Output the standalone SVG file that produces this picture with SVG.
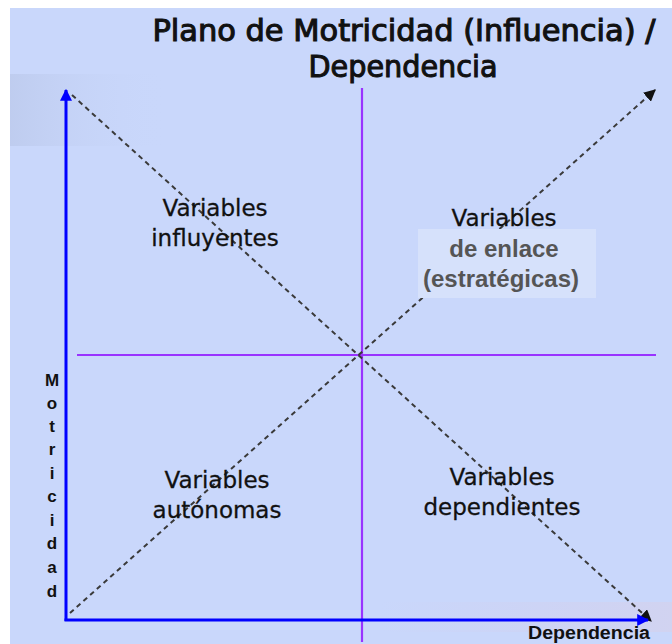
<svg xmlns="http://www.w3.org/2000/svg" width="672" height="644" viewBox="0 0 672 644">
  <defs>
    <linearGradient id="band" x1="0" y1="0" x2="1" y2="0">
      <stop offset="0" stop-color="#9aa6c4" stop-opacity="0.22"/>
      <stop offset="1" stop-color="#c9d7fb" stop-opacity="0"/>
    </linearGradient>
    <linearGradient id="band2" x1="0" y1="0" x2="1" y2="0">
      <stop offset="0" stop-color="#d6c8e6" stop-opacity="0"/>
      <stop offset="1" stop-color="#d9cfe6" stop-opacity="0.5"/>
    </linearGradient>
    <marker id="blueArrow" viewBox="0 0 10 10" refX="9" refY="5" markerWidth="4" markerHeight="4" orient="auto" markerUnits="strokeWidth">
      <path d="M0,0 L10,5 L0,10 z" fill="#0000ff"/>
    </marker>
    <marker id="dashArrow" viewBox="0 0 10 10" refX="9" refY="5" markerWidth="6" markerHeight="6" orient="auto" markerUnits="strokeWidth">
      <path d="M0,0 L10,5 L0,10 z" fill="#111"/>
    </marker>
  </defs>
  <style>
    .axis { stroke: #0000ff; stroke-width: 3; fill: none; }
    .mid { stroke: #9933ff; stroke-width: 2.2; fill: none; }
    .diag { stroke: #3a3a3a; stroke-width: 2; stroke-dasharray: 5 4; fill: none; }
    .title { font-family: "DejaVu Sans Condensed", "DejaVu Sans", sans-serif; font-size: 30px; font-weight: normal; fill: #111; stroke: #111; stroke-width: 1; text-anchor: middle; }
    .quad { font-family: "DejaVu Sans", sans-serif; font-size: 23px; fill: #111; stroke: #111; stroke-width: 0.3; text-anchor: middle; }
    .enl { font-family: "Liberation Sans", Arial, sans-serif; font-size: 24px; font-weight: bold; fill: #555; text-anchor: middle; }
    .axl { font-family: "Liberation Sans", Arial, sans-serif; font-size: 17px; font-weight: bold; fill: #111; text-anchor: middle; }
  </style>
  <rect x="0" y="0" width="672" height="644" fill="#ffffff"/>
  <rect x="10" y="8" width="662" height="636" fill="#c9d7fb"/>
  <rect x="10" y="74" width="160" height="72" fill="url(#band)"/>
  <rect x="380" y="602" width="292" height="30" fill="url(#band2)"/>

  <g id="title">
    <text class="title" x="404" y="41" textLength="503" lengthAdjust="spacingAndGlyphs">Plano de Motricidad (Influencia) /</text>
    <text class="title" x="403" y="77" textLength="189" lengthAdjust="spacingAndGlyphs">Dependencia</text>
  </g>

  <g id="connectors">
    <line class="mid" x1="362" y1="88" x2="362" y2="642"/>
    <line class="mid" x1="77" y1="355" x2="656" y2="355"/>
    <line class="diag" x1="72" y1="95" x2="651" y2="621" marker-end="url(#dashArrow)"/>
    <line class="diag" x1="70" y1="613" x2="655" y2="90" marker-end="url(#dashArrow)"/>
    <line class="axis" x1="66" y1="621" x2="66" y2="90" marker-end="url(#blueArrow)"/>
    <line class="axis" x1="64.5" y1="620" x2="648" y2="620" marker-end="url(#blueArrow)"/>
  </g>

  <g id="q-influyentes">
    <text class="quad" x="215" y="216">Variables</text>
    <text class="quad" x="215" y="246">influyentes</text>
  </g>
  <g id="q-enlace">
    <rect x="418" y="229" width="178" height="69" fill="#d6e1fb"/>
    <text class="quad" x="504" y="226">Variables</text>
    <text class="enl" x="504" y="257">de enlace</text>
    <text class="enl" x="501" y="287">(estratégicas)</text>
  </g>
  <g id="q-autonomas">
    <text class="quad" x="217" y="488">Variables</text>
    <text class="quad" x="217" y="518">autónomas</text>
  </g>
  <g id="q-dependientes">
    <text class="quad" x="502" y="485">Variables</text>
    <text class="quad" x="502" y="515">dependientes</text>
  </g>

  <g id="label-motricidad">
    <text class="axl" x="52" y="386">M</text>
    <text class="axl" x="52" y="409">o</text>
    <text class="axl" x="52" y="432">t</text>
    <text class="axl" x="52" y="455">r</text>
    <text class="axl" x="52" y="479">i</text>
    <text class="axl" x="52" y="502">c</text>
    <text class="axl" x="52" y="526">i</text>
    <text class="axl" x="52" y="549">d</text>
    <text class="axl" x="52" y="573">a</text>
    <text class="axl" x="52" y="597">d</text>
  </g>
  <g id="label-dependencia">
    <text class="axl" x="650" y="639" style="text-anchor:end;font-size:18px" textLength="122" lengthAdjust="spacingAndGlyphs">Dependencia</text>
  </g>
</svg>
